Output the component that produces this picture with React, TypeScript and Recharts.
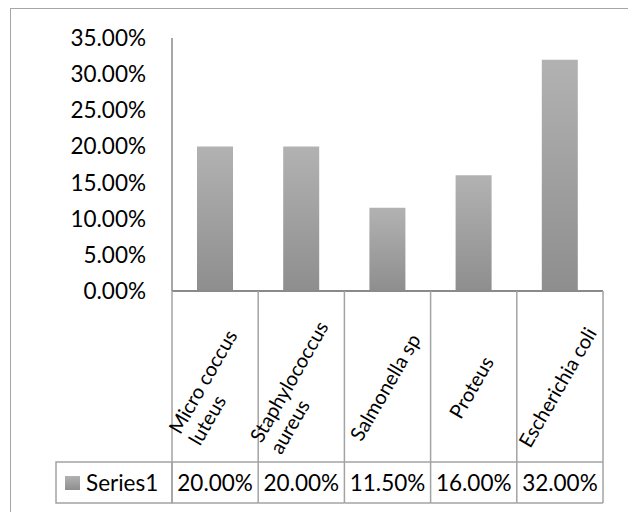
import { BarChart, Bar, XAxis, YAxis } from "recharts";

const categories = [
  "Micro coccus luteus",
  "Staphylococcus aureus",
  "Salmonella sp",
  "Proteus",
  "Escherichia coli",
];
const series1 = [20, 20, 11.5, 16, 32];
const yTicks = [0, 5, 10, 15, 20, 25, 30, 35];
const seriesName = "Series1";

const data = categories.map((name, i) => ({ name, value: series1[i] }));

const W = 628;
const H = 512;
const MARGIN = { top: 38, right: 25, left: 0, bottom: 0 };
const Y_AXIS_W = 172;
const X_AXIS_H = 221;
const LABEL_ROW_H = 171;
const VALUE_ROW_H = 41;
const LEGEND_CELL_W = 116;
const band = (W - Y_AXIS_W - MARGIN.right) / categories.length;

const FONT = "Lato, 'Open Sans', sans-serif";
const TEXT_SIZE = 22.5;
const LABEL_SIZE = 20;
const GRID = "#a3a3a3";
const AXIS = "#8a8a8a";

const pct = (v: number) => `${v.toFixed(2)}%`;

let ctx: CanvasRenderingContext2D | null = null;
function textWidth(s: string, size: number) {
  if (!ctx) ctx = document.createElement("canvas").getContext("2d");
  if (!ctx) return s.length * size * 0.5;
  ctx.font = `${size}px Lato`;
  return ctx.measureText(s).width;
}

// long names wrap onto two lines like in the sheet
function wrap(label: string) {
  if (label.length <= 16) return [label];
  const i = label.lastIndexOf(" ");
  return [label.slice(0, i), label.slice(i + 1)];
}

function TableTick(props: any) {
  const { x, y, payload, index } = props;
  const left = x - band / 2;
  const right = x + band / 2;
  const rowY = y + LABEL_ROW_H;
  const bottom = rowY + VALUE_ROW_H;
  const lines = wrap(String(payload.value));
  const lh = 23;
  const blockW = Math.max(...lines.map((l) => textWidth(l, LABEL_SIZE)));
  const cy = y + 96;

  return (
    <g>
      <line x1={left} y1={y} x2={left} y2={bottom} stroke={GRID} strokeWidth={1.5} />
      {index === categories.length - 1 && (
        <line x1={right} y1={y} x2={right} y2={bottom} stroke={GRID} strokeWidth={1.5} />
      )}
      <line x1={left} y1={rowY} x2={right} y2={rowY} stroke={GRID} strokeWidth={1.5} />
      <line x1={left} y1={bottom} x2={right} y2={bottom} stroke={GRID} strokeWidth={1.5} />
      <g transform={`translate(${x - 3},${cy}) rotate(-60)`}>
        {lines.map((l, i) => (
          <text
            key={i}
            x={-blockW / 2}
            y={(i - (lines.length - 1) / 2) * lh}
            dominantBaseline="central"
            textAnchor="start"
            fontFamily={FONT}
            fontSize={LABEL_SIZE}
            fill="#000"
          >
            {l}
          </text>
        ))}
      </g>
      <text
        x={x}
        y={rowY + VALUE_ROW_H / 2}
        textAnchor="middle"
        dominantBaseline="central"
        fontFamily={FONT}
        fontSize={TEXT_SIZE}
        fill="#000"
      >
        {pct(series1[index])}
      </text>
      {index === 0 && (
        <g>
          <rect
            x={left - LEGEND_CELL_W}
            y={rowY}
            width={LEGEND_CELL_W}
            height={VALUE_ROW_H}
            fill="none"
            stroke={GRID}
            strokeWidth={1.5}
          />
          <rect x={left - LEGEND_CELL_W + 9} y={rowY + 14} width={15} height={14} fill="url(#barFill)" />
          <text
            x={left - LEGEND_CELL_W + 30}
            y={rowY + VALUE_ROW_H / 2}
            dominantBaseline="central"
            fontFamily={FONT}
            fontSize={TEXT_SIZE}
            fill="#000"
          >
            {seriesName}
          </text>
        </g>
      )}
    </g>
  );
}

export default function App() {
  return (
    <div
      style={{
        position: "absolute",
        left: 0,
        top: 0,
        width: W,
        height: H,
        overflow: "hidden",
        background: "#fff",
      }}
    >
      <div
        style={{
          position: "absolute",
          left: 10,
          top: 8,
          width: W + 40,
          height: H + 40,
          border: "1.5px solid #a6a6a6",
        }}
      />
      <div style={{ position: "absolute", left: 0, top: 0 }}>
        <BarChart width={W} height={H} data={data} margin={MARGIN}>
          <defs>
            <linearGradient id="barFill" x1="0" y1="0" x2="0" y2="1">
              <stop offset="0%" stopColor="#b2b2b2" />
              <stop offset="100%" stopColor="#8e8e8e" />
            </linearGradient>
          </defs>
          <XAxis
            dataKey="name"
            height={X_AXIS_H}
            interval={0}
            tickLine={false}
            tickSize={0}
            tickMargin={0}
            axisLine={{ stroke: AXIS, strokeWidth: 2 }}
            tick={<TableTick />}
          />
          <YAxis
            width={Y_AXIS_W}
            domain={[0, 35]}
            ticks={yTicks}
            interval={0}
            tickFormatter={pct}
            tickLine={false}
            tickSize={0}
            tickMargin={26}
            axisLine={{ stroke: AXIS, strokeWidth: 1.5 }}
            tick={{ fontFamily: FONT, fontSize: TEXT_SIZE, fill: "#000" }}
          />
          <Bar dataKey="value" name={seriesName} barSize={36} fill="url(#barFill)" isAnimationActive={false} />
        </BarChart>
      </div>
    </div>
  );
}
